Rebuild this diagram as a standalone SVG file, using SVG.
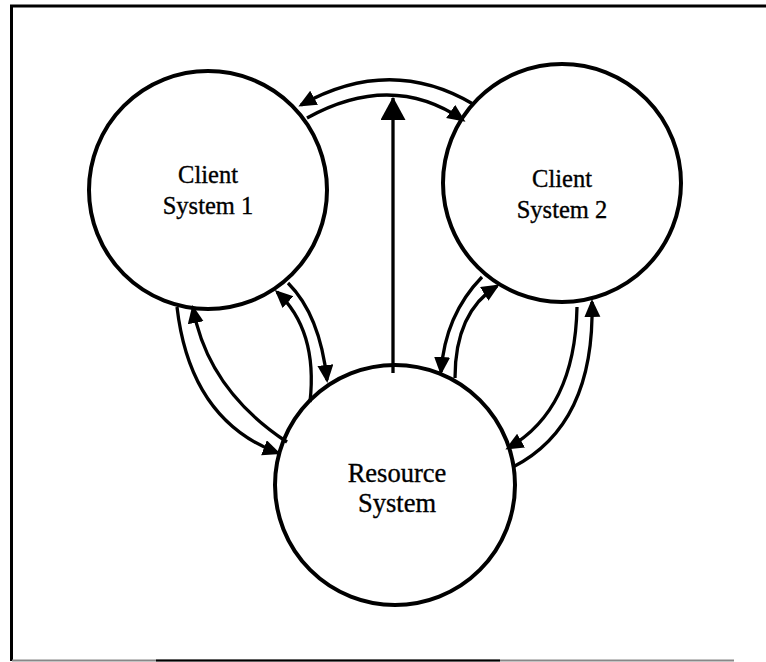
<svg xmlns="http://www.w3.org/2000/svg" width="766" height="662" viewBox="0 0 766 662">
<style>
.node circle{fill:#fff;stroke:#000;stroke-width:4}
.lbl{font-family:"Liberation Serif","Times New Roman",serif;fill:#000;stroke:#000;stroke-width:0.35;text-anchor:middle}
.c{font-size:24.5px}
.r{font-size:26.5px}
.conn path{fill:none;stroke:#000;stroke-width:3.3}
.small{marker-end:url(#ah)}
</style>
<defs>
<marker id="ah" markerUnits="userSpaceOnUse" markerWidth="19" markerHeight="17" refX="15" refY="8" orient="auto" viewBox="0 0 19 17">
<path d="M0,0 L18,8 L0,16 z" fill="#000"/>
</marker>
<marker id="big" markerUnits="userSpaceOnUse" markerWidth="24" markerHeight="26" refX="22" refY="12.5" orient="auto" viewBox="0 0 24 26">
<path d="M0,0 L23,12.5 L0,25 z" fill="#000"/>
</marker>
</defs>
<rect width="766" height="662" fill="#fff"/>
<g id="frame">
<line x1="10" y1="6" x2="766" y2="6" stroke="#000" stroke-width="3"/>
<line x1="11.5" y1="5" x2="11.5" y2="661" stroke="#000" stroke-width="3"/>
<line x1="12" y1="660.5" x2="734" y2="660.5" stroke="#888" stroke-width="2"/>
<line x1="156" y1="660.5" x2="500" y2="660.5" stroke="#000" stroke-width="2"/>
</g>
<g id="client1" class="node">
<circle cx="208" cy="190" r="119"/>
<text class="lbl c" x="208" y="183">Client</text>
<text class="lbl c" x="208" y="214">System 1</text>
</g>
<g id="client2" class="node">
<circle cx="562" cy="183" r="119"/>
<text class="lbl c" x="562" y="187">Client</text>
<text class="lbl c" x="562" y="218">System 2</text>
</g>
<g id="resource" class="node">
<circle cx="395" cy="485" r="120"/>
<text class="lbl r" x="397" y="482">Resource</text>
<text class="lbl r" x="397" y="512">System</text>
</g>
<g id="connectors" class="conn">
<path d="M393,373 L393,98" marker-end="url(#big)"/>
<path class="small" d="M473,104 Q390,55 301,105"/>
<path class="small" d="M307,118 Q392,71 463,120"/>
<path class="small" d="M177,307 Q190,420 278,453"/>
<path class="small" d="M287,442 Q208,390 193,308"/>
<path class="small" d="M288,283 Q320,315 327,380"/>
<path class="small" d="M310,402 Q318,330 277,292"/>
<path class="small" d="M482,277 Q445,315 441,372"/>
<path class="small" d="M455,378 Q455,312 497,286"/>
<path class="small" d="M577,307 Q575,410 508,448"/>
<path class="small" d="M513,467 Q595,425 592,302"/>
</g>
</svg>
